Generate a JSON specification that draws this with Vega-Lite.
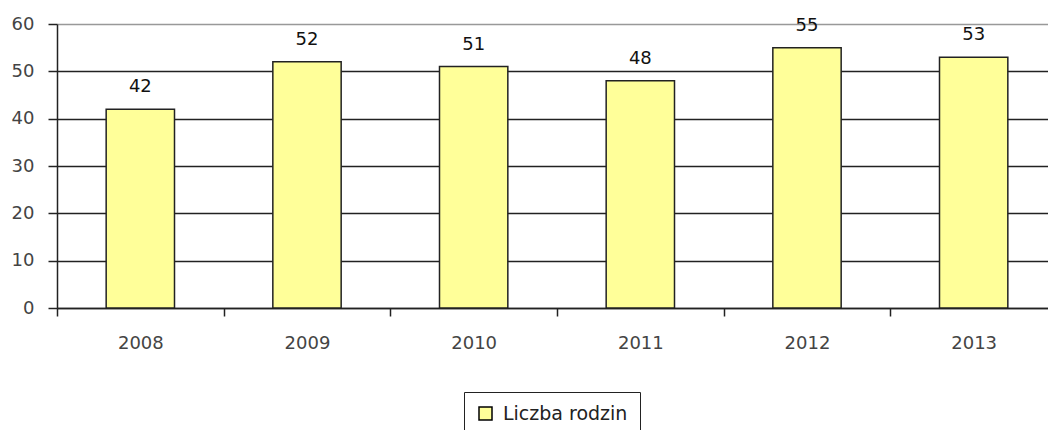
{
  "$schema": "https://vega.github.io/schema/vega-lite/v6.json",
  "autosize": "none",
  "padding": {"left": 57, "top": 24, "right": 0, "bottom": 122},
  "width": 1000,
  "height": 284,
  "background": "white",
  "config": {
    "view": {"stroke": null},
    "font": "DejaVu Sans"
  },
  "data": {
    "values": [
      {"rok": "2008", "liczba": 42, "seria": "Liczba rodzin"},
      {"rok": "2009", "liczba": 52, "seria": "Liczba rodzin"},
      {"rok": "2010", "liczba": 51, "seria": "Liczba rodzin"},
      {"rok": "2011", "liczba": 48, "seria": "Liczba rodzin"},
      {"rok": "2012", "liczba": 55, "seria": "Liczba rodzin"},
      {"rok": "2013", "liczba": 53, "seria": "Liczba rodzin"}
    ]
  },
  "encoding": {
    "x": {
      "field": "rok",
      "type": "nominal",
      "scale": {"paddingInner": 0, "paddingOuter": 0},
      "axis": {
        "title": null,
        "labelAngle": 0,
        "tickBand": "extent",
        "domainColor": "#222",
        "domainWidth": 1.5,
        "tickColor": "#222",
        "tickWidth": 1.5,
        "tickSize": 8,
        "labelFontSize": 18,
        "labelColor": "#444",
        "labelPadding": 18,
        "grid": false
      }
    }
  },
  "layer": [
    {
      "mark": {"type": "bar", "width": {"band": 0.41}, "stroke": "#222", "strokeWidth": 1.5},
      "encoding": {
        "y": {
          "field": "liczba",
          "type": "quantitative",
          "scale": {"domain": [0, 60], "nice": false},
          "axis": {
            "title": null,
            "values": [0, 10, 20, 30, 40, 50, 60],
            "domainColor": "#222",
            "domainWidth": 1.5,
            "tickColor": "#222",
            "tickWidth": 1.5,
            "tickSize": 9,
            "labelFontSize": 18,
            "labelColor": "#444",
            "labelPadding": 14,
            "grid": true,
            "gridColor": {"condition": {"test": "datum.value === 60", "value": "#999999"}, "value": "#222222"},
            "gridWidth": 1.5
          }
        },
        "fill": {
          "field": "seria",
          "type": "nominal",
          "scale": {"range": ["#FFFF99"]},
          "legend": {
            "title": null,
            "orient": "none",
            "legendX": 407,
            "legendY": 368,
            "symbolType": "square",
            "symbolSize": 169,
            "symbolStrokeColor": "#000",
            "symbolStrokeWidth": 1.5,
            "labelFontSize": 19,
            "labelColor": "#222",
            "labelOffset": 8,
            "strokeColor": "#222",
            "padding": 12
          }
        }
      }
    },
    {
      "mark": {"type": "text", "dy": -17, "baseline": "alphabetic", "fontSize": 18, "color": "#111"},
      "encoding": {
        "y": {"field": "liczba", "type": "quantitative"},
        "text": {"field": "liczba", "type": "quantitative"}
      }
    }
  ]
}
